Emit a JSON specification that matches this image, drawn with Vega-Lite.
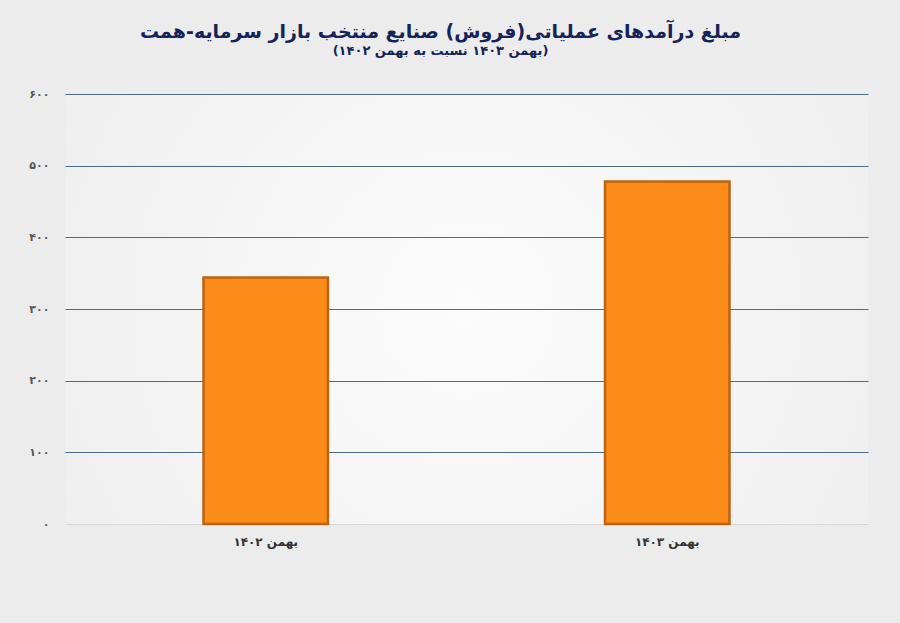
{
  "$schema": "https://vega.github.io/schema/vega-lite/v6.json",
  "autosize": "none",
  "width": 803,
  "height": 430,
  "padding": {"left": 65, "top": 94, "right": 32, "bottom": 99},
  "background": "#ececec",
  "view": {
    "stroke": null,
    "fill": {"gradient": "radial", "x1": 0.5, "y1": 0.5, "x2": 0.5, "y2": 0.5, "r1": 0, "r2": 0.7, "stops": [{"offset": 0, "color": "#fcfcfc"}, {"offset": 1, "color": "#ececec"}]}
  },
  "title": {
    "text": "مبلغ درآمدهای عملیاتی(فروش) صنایع منتخب بازار سرمایه-همت",
    "subtitle": "(بهمن ۱۴۰۳ نسبت به بهمن ۱۴۰۲)",
    "anchor": "middle",
    "frame": "group",
    "dx": -26,
    "offset": 30,
    "font": "DejaVu Sans",
    "fontSize": 19,
    "fontWeight": "bold",
    "color": "#14245a",
    "subtitleFont": "DejaVu Sans",
    "subtitleFontSize": 13,
    "subtitleFontWeight": "bold",
    "subtitleColor": "#14245a",
    "subtitlePadding": 3
  },
  "data": {
    "values": [
      {"period": "بهمن ۱۴۰۲", "value": 344},
      {"period": "بهمن ۱۴۰۳", "value": 478}
    ]
  },
  "mark": {"type": "bar", "width": {"band": 0.31}, "fill": "#fc8c1a", "stroke": "#b9640f", "strokeWidth": 2.5},
  "encoding": {
    "x": {
      "field": "period",
      "type": "nominal",
      "sort": null,
      "scale": {"paddingInner": 0, "paddingOuter": 0},
      "axis": {
        "title": null,
        "labelAngle": 0,
        "domain": false,
        "ticks": false,
        "labelFont": "DejaVu Sans",
        "labelFontSize": 12,
        "labelFontWeight": "bold",
        "labelColor": "#333333",
        "labelPadding": 12
      }
    },
    "y": {
      "field": "value",
      "type": "quantitative",
      "scale": {"domain": [0, 600]},
      "axis": {
        "title": null,
        "values": [0, 100, 200, 300, 400, 500, 600],
        "domain": false,
        "ticks": false,
        "labelFont": "DejaVu Sans",
        "labelFontSize": 11,
        "labelFontWeight": "bold",
        "labelColor": "#555555",
        "labelPadding": 16,
        "labelExpr": "replace(replace(replace(replace(replace(replace(replace(datum.label,/0/g,'۰'),/1/g,'۱'),/2/g,'۲'),/3/g,'۳'),/4/g,'۴'),/5/g,'۵'),/6/g,'۶')",
        "gridColor": {"condition": {"test": "datum.value === 0", "value": "#d6d6d6"}, "value": "#4c6b8c"},
        "gridWidth": 1.2
      }
    }
  }
}
